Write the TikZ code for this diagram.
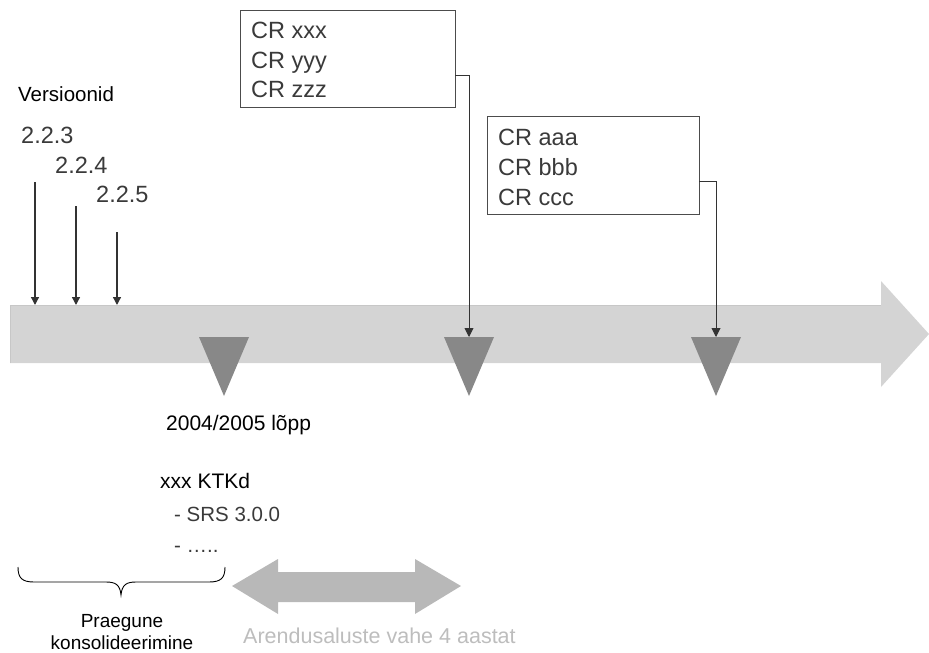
\documentclass[tikz,border=0pt]{standalone}
\usepackage{fontspec}
\setmainfont{Liberation Sans}
\usetikzlibrary{arrows.meta}
\definecolor{barc}{HTML}{D4D4D4}
\definecolor{tric}{HTML}{888888}
\definecolor{dblc}{HTML}{B8B8B8}
\definecolor{lightt}{HTML}{BDBDBD}
\definecolor{darkt}{HTML}{3A3A3A}
\definecolor{linec}{HTML}{333333}
\tikzset{
  txt/.style={inner sep=0pt, anchor=base west, font=\fontsize{21}{24}\selectfont},
  vtxt/.style={inner sep=0pt, anchor=base west, text=darkt, font=\fontsize{23.5}{26}\selectfont},
  crtxt/.style={inner sep=0pt, anchor=base west, text=darkt, font=\fontsize{23.5}{26}\selectfont},
  crbox/.style={draw=black!70, line width=0.9pt, fill=white, inner sep=0pt},
  varrow/.style={draw=linec, line width=1.3pt, -{Triangle[length=8pt,width=8pt]}},
  conn/.style={draw=linec, line width=0.9pt, -{Triangle[length=9pt,width=9pt]}},
  tri/.style={fill=tric, draw=none},
}
\begin{document}
\begin{tikzpicture}[x=1pt,y=-1pt]
\useasboundingbox (0,0) rectangle (929,653);
% main timeline arrow
\fill[barc] (10,305) -- (881,305) -- (881,281) -- (929,334) -- (881,387) -- (881,363) -- (10,363) -- cycle;
\draw[black!22, line width=0.6pt] (10,363) -- (10,305) -- (881,305);
% triangles
\coordinate (t1) at (224,337);
\coordinate (t2) at (469,337);
\coordinate (t3) at (716,337);
\foreach \t in {t1,t2,t3}{
  \fill[tri] ([xshift=-25pt]\t) -- ([xshift=25pt]\t) -- ([yshift=-59pt]\t) -- cycle;
}
% versions
\node[txt, font=\fontsize{20.5}{24}\selectfont] (vers) at (18,101) {Versioonid};
\node[vtxt] (v1) at (21,143) {2.2.3};
\node[vtxt] (v2) at (55,173) {2.2.4};
\node[vtxt] (v3) at (96,202) {2.2.5};
\coordinate (a1s) at (35,182); \coordinate (a1e) at (35,305);
\coordinate (a2s) at (76,206); \coordinate (a2e) at (76,305);
\coordinate (a3s) at (117,232); \coordinate (a3e) at (117,305);
\draw[varrow] (a1s) -- (a1e);
\draw[varrow] (a2s) -- (a2e);
\draw[varrow] (a3s) -- (a3e);
% CR boxes
\node[crbox, minimum width=215pt, minimum height=97pt] (b1) at (347.5,58.5) {};
\node[crtxt] (b1a) at (251,38) {CR xxx};
\node[crtxt] (b1b) at (251,68) {CR yyy};
\node[crtxt] (b1c) at (251,97) {CR zzz};
\node[crbox, minimum width=212pt, minimum height=98pt] (b2) at (593,165) {};
\node[crtxt] (b2a) at (498,145) {CR aaa};
\node[crtxt] (b2b) at (498,175) {CR bbb};
\node[crtxt] (b2c) at (498,205) {CR ccc};
\draw[conn] ([yshift=-16.5pt]b1.east) -| (t2);
\draw[conn] ([yshift=-16pt]b2.east) -| (t3);
% lower texts
\node[txt] (lopp) at (166,430) {2004/2005 lõpp};
\node[txt] (ktk) at (160,488) {xxx KTKd};
\node[vtxt, font=\fontsize{20.5}{24}\selectfont] (srs) at (174,521) {- SRS 3.0.0};
\node[vtxt, font=\fontsize{20.5}{24}\selectfont] (dots) at (174,552) {- …..};
% brace
\coordinate (br1) at (18,567);
\coordinate (br2) at (225,567);
\coordinate (brm) at (121,595);
\draw[black, line width=0.9pt] (br1) .. controls (18,578) and (22,582) .. (34,582) -- (106,582)
  .. controls (116,582) and (120,585) .. (brm)
  .. controls (122,585) and (126,582) .. (136,582) -- (209,582)
  .. controls (221,582) and (225,578) .. (br2);
\node[inner sep=0pt, anchor=base, font=\fontsize{19}{23}\selectfont] (prae1) at (122,627) {Praegune};
\node[inner sep=0pt, anchor=base, font=\fontsize{19}{23}\selectfont] (prae2) at (122,649) {konsolideerimine};
% double arrow
\fill[dblc] (232,586) -- (278,559) -- (278,572) -- (415,572) -- (415,559) -- (461,586) -- (415,614) -- (415,602) -- (278,602) -- (278,614) -- cycle;
\node[txt, text=lightt, font=\fontsize{21.5}{24}\selectfont] (aren) at (243,643) {Arendusaluste vahe 4 aastat};
\end{tikzpicture}
\end{document}
